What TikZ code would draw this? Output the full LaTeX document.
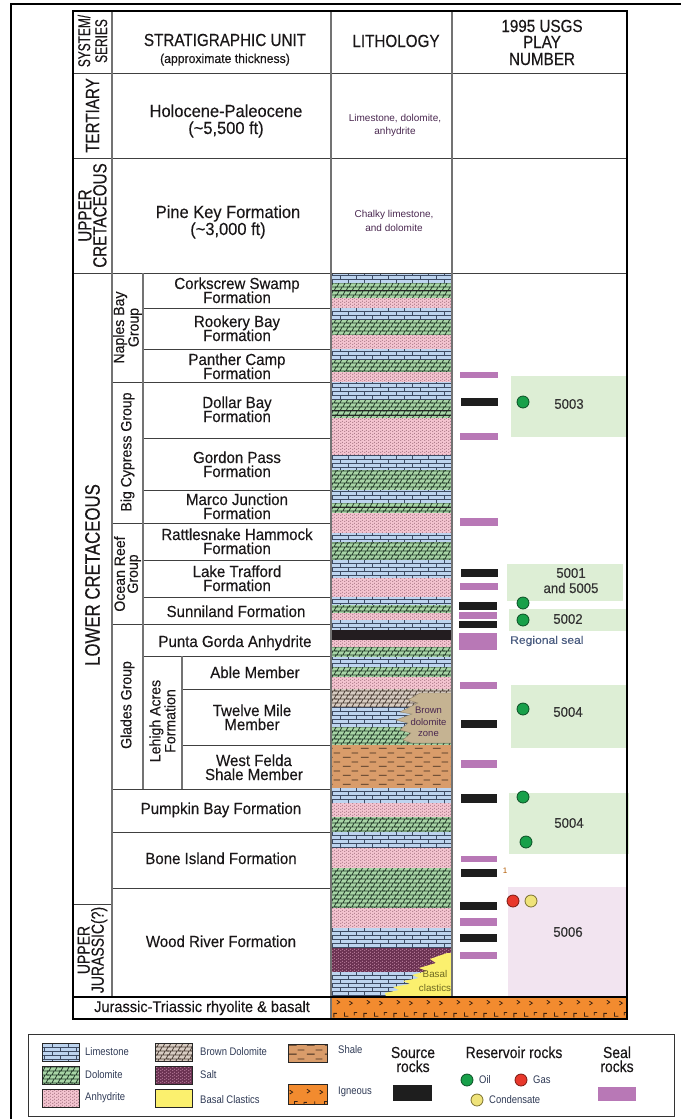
\documentclass[tikz,border=0pt]{standalone}
\usepackage{fontspec}
\setmainfont{Liberation Sans}[FakeStretch=0.94,FakeBold=0.3]
\newfontfamily\capf{Liberation Sans}[FakeStretch=0.8,FakeBold=0.3]
\newfontfamily\sysf{Liberation Sans}[FakeStretch=0.7,FakeBold=0.3]
\newfontfamily\hdf{Liberation Sans}[FakeStretch=0.87,FakeBold=0.3]
\newfontfamily\lgf{Liberation Sans}[FakeStretch=0.86]
\newfontfamily\wdf{Liberation Sans}[FakeStretch=1.1,FakeBold=0.4]
\newfontfamily\nrf{Liberation Sans}
\usetikzlibrary{patterns}

\definecolor{lsC}{HTML}{BDD4EF}\definecolor{lsL}{HTML}{3D4B63}
\definecolor{doC}{HTML}{A8D5A6}\definecolor{doL}{HTML}{253D2B}
\definecolor{anC}{HTML}{F4C4D0}\definecolor{anL}{HTML}{8A5868}
\definecolor{saC}{HTML}{6B3252}\definecolor{saL}{HTML}{D89AB8}
\definecolor{bdC}{HTML}{D8CDC3}\definecolor{bdL}{HTML}{4E4038}
\definecolor{shC}{HTML}{D99C6A}\definecolor{shL}{HTML}{3B2A1C}
\definecolor{igC}{HTML}{F28B2F}\definecolor{igL}{HTML}{3A2212}
\definecolor{bkC}{HTML}{231D20}
\definecolor{yelC}{HTML}{FBF06E}
\definecolor{bzC}{HTML}{C5B392}
\definecolor{grnBox}{HTML}{DDEED5}
\definecolor{pnkBox}{HTML}{F2E4F0}
\definecolor{sealC}{HTML}{B878B6}
\definecolor{srcC}{HTML}{1E1E1E}
\definecolor{oilC}{HTML}{18A04A}\definecolor{oilD}{HTML}{0B4F25}
\definecolor{gasC}{HTML}{E8382C}\definecolor{gasD}{HTML}{7A1A12}
\definecolor{conC}{HTML}{EFE37A}\definecolor{conD}{HTML}{7A7030}
\definecolor{txtC}{HTML}{1A1718}
\definecolor{litC}{HTML}{4A2850}
\definecolor{lgC}{HTML}{2F3A55}
\definecolor{rsC}{HTML}{4A5C80}

\pgfdeclarepatternformonly{limeP}{\pgfqpoint{-1pt}{-1pt}}{\pgfqpoint{17pt}{9pt}}{\pgfqpoint{16pt}{8pt}}{%
  \pgfsetlinewidth{0.7pt}%
  \pgfpathmoveto{\pgfqpoint{-1pt}{0pt}}\pgfpathlineto{\pgfqpoint{17pt}{0pt}}%
  \pgfpathmoveto{\pgfqpoint{-1pt}{4pt}}\pgfpathlineto{\pgfqpoint{17pt}{4pt}}%
  \pgfpathmoveto{\pgfqpoint{4pt}{0pt}}\pgfpathlineto{\pgfqpoint{4pt}{4pt}}%
  \pgfpathmoveto{\pgfqpoint{12pt}{4pt}}\pgfpathlineto{\pgfqpoint{12pt}{8pt}}%
  \pgfusepath{stroke}}
\pgfdeclarepatternformonly{doloP}{\pgfqpoint{-1pt}{-1pt}}{\pgfqpoint{13pt}{9pt}}{\pgfqpoint{12pt}{8pt}}{%
  \pgfsetlinewidth{0.7pt}%
  \pgfpathmoveto{\pgfqpoint{-1pt}{0pt}}\pgfpathlineto{\pgfqpoint{13pt}{0pt}}%
  \pgfpathmoveto{\pgfqpoint{-1pt}{4pt}}\pgfpathlineto{\pgfqpoint{13pt}{4pt}}%
  \pgfpathmoveto{\pgfqpoint{1pt}{0pt}}\pgfpathlineto{\pgfqpoint{3pt}{4pt}}%
  \pgfpathmoveto{\pgfqpoint{7pt}{0pt}}\pgfpathlineto{\pgfqpoint{9pt}{4pt}}%
  \pgfpathmoveto{\pgfqpoint{4pt}{4pt}}\pgfpathlineto{\pgfqpoint{6pt}{8pt}}%
  \pgfpathmoveto{\pgfqpoint{10pt}{4pt}}\pgfpathlineto{\pgfqpoint{12pt}{8pt}}%
  \pgfusepath{stroke}}
\pgfdeclarepatternformonly{anhyP}{\pgfqpoint{0pt}{0pt}}{\pgfqpoint{4pt}{3pt}}{\pgfqpoint{4pt}{3pt}}{%
  \pgfpathcircle{\pgfqpoint{1pt}{0.75pt}}{0.65pt}%
  \pgfpathcircle{\pgfqpoint{3pt}{2.25pt}}{0.65pt}%
  \pgfusepath{fill}}
\pgfdeclarepatternformonly{shaleP}{\pgfqpoint{0pt}{0pt}}{\pgfqpoint{18pt}{9pt}}{\pgfqpoint{18pt}{9pt}}{%
  \pgfsetlinewidth{0.9pt}%
  \pgfpathmoveto{\pgfqpoint{1pt}{2pt}}\pgfpathlineto{\pgfqpoint{9pt}{2pt}}%
  \pgfpathmoveto{\pgfqpoint{10pt}{6.5pt}}\pgfpathlineto{\pgfqpoint{17pt}{6.5pt}}%
  \pgfusepath{stroke}}
\pgfdeclarepatternformonly{ignP}{\pgfqpoint{0pt}{0pt}}{\pgfqpoint{30pt}{22pt}}{\pgfqpoint{30pt}{22pt}}{%
  \pgfsetlinewidth{0.8pt}%
  \pgfpathmoveto{\pgfqpoint{4pt}{14pt}}\pgfpathlineto{\pgfqpoint{4pt}{18pt}}\pgfpathlineto{\pgfqpoint{7pt}{18pt}}%
  \pgfpathmoveto{\pgfqpoint{15pt}{19pt}}\pgfpathlineto{\pgfqpoint{15pt}{15pt}}\pgfpathlineto{\pgfqpoint{19pt}{15pt}}%
  \pgfpathmoveto{\pgfqpoint{7pt}{9pt}}\pgfpathlineto{\pgfqpoint{10pt}{7pt}}\pgfpathlineto{\pgfqpoint{7pt}{5pt}}%
  \pgfpathmoveto{\pgfqpoint{20pt}{8pt}}\pgfpathlineto{\pgfqpoint{23pt}{6pt}}\pgfpathlineto{\pgfqpoint{20pt}{4pt}}%
  \pgfpathmoveto{\pgfqpoint{25pt}{16pt}}\pgfpathlineto{\pgfqpoint{25pt}{19pt}}\pgfpathlineto{\pgfqpoint{28pt}{19pt}}%
  \pgfusepath{stroke}}

\newcommand\lband[3]{\path[#3] (331,#1) rectangle (452,#2);}
\newcommand\swatch[5]{\path[#5] (#1,#2) rectangle (#3,#4); \draw[swb] (#1,#2) rectangle (#3,#4);}

\begin{document}
\begin{tikzpicture}[x=1pt,y=-1pt,
  lsB/.style={fill=lsC, postaction={pattern=limeP, pattern color=lsL}},
  doB/.style={fill=doC, postaction={pattern=doloP, pattern color=doL}},
  anB/.style={fill=anC, postaction={pattern=anhyP, pattern color=anL}},
  saB/.style={fill=saC, postaction={pattern=anhyP, pattern color=saL}},
  bdB/.style={fill=bdC, postaction={pattern=doloP, pattern color=bdL}},
  shB/.style={fill=shC, postaction={pattern=shaleP, pattern color=shL}},
  igB/.style={fill=igC, postaction={pattern=ignP, pattern color=igL}},
  bkB/.style={fill=bkC},
  ylB/.style={fill=yelC},
  swb/.style={draw=black!85, line width=0.8pt},
  sealbar/.style={fill=sealC},
  srcbar/.style={fill=srcC},
  tl/.style={draw=black!75, line width=0.9pt},
  vl/.style={draw=black!55, line width=1.2pt},
  oil/.style={circle, inner sep=0pt, minimum size=12pt, fill=oilC, draw=oilD, line width=0.8pt},
  gas/.style={circle, inner sep=0pt, minimum size=12pt, fill=gasC, draw=gasD, line width=0.8pt},
  cond/.style={circle, inner sep=0pt, minimum size=12pt, fill=conC, draw=conD, line width=0.8pt},
  fm/.style={font=\fontsize{16}{14}\selectfont, text=txtC, inner sep=0pt, anchor=base},
  hd/.style={font=\hdf\fontsize{17.5}{16}\selectfont, text=txtC, inner sep=0pt, anchor=base},
  rot/.style={rotate=90, inner sep=0pt, text=txtC, align=center},
  lit/.style={font=\nrf\fontsize{10}{12}\selectfont, text=litC, inner sep=0pt, anchor=base},
  play/.style={font=\fontsize{14}{14}\selectfont, text=black!80, inner sep=0pt},
  lgs/.style={font=\lgf\fontsize{11}{12}\selectfont, text=lgC, inner sep=0pt, anchor=west},
  lgh/.style={font=\hdf\fontsize{16}{14}\selectfont, text=txtC, inner sep=0pt, anchor=base}
]
\useasboundingbox (0,0) rectangle (681,1119);

% play boxes
\fill[grnBox] (511,376) rectangle (627,437);
\fill[grnBox] (507,564) rectangle (623,601);
\fill[grnBox] (509,609) rectangle (627,631);
\fill[grnBox] (511,685) rectangle (627,748);
\fill[grnBox] (509,793) rectangle (629,854);
\fill[pnkBox] (508,887) rectangle (627,997);

% lithology bands
\lband{273}{283}{lsB}
\lband{283}{298}{doB}
\lband{298}{308}{anB}
\lband{308}{320}{lsB}
\lband{320}{335}{doB}
\lband{335}{349}{anB}
\lband{349}{360}{lsB}
\lband{360}{372}{doB}
\lband{372}{382}{anB}
\lband{382}{400}{lsB}
\lband{400}{418}{doB}
\lband{418}{455}{anB}
\lband{455}{470}{lsB}
\lband{470}{490}{doB}
\lband{490}{503}{lsB}
\lband{503}{513}{doB}
\lband{513}{533}{anB}
\lband{533}{542}{lsB}
\lband{542}{560}{doB}
\lband{560}{578}{lsB}
\lband{578}{597}{anB}
\lband{597}{605}{lsB}
\lband{605}{613}{doB}
\lband{613}{620}{anB}
\lband{620}{630}{lsB}
\lband{630}{640}{bkB}
\lband{640}{647}{anB}
\lband{647}{657}{doB}
\lband{657}{667}{lsB}
\lband{667}{677}{doB}
\lband{677}{689}{anB}
\lband{689}{707}{bdB}
\lband{707}{727}{lsB}
\lband{727}{745}{doB}
\lband{745}{788}{shB}
\lband{788}{803}{lsB}
\lband{803}{817}{anB}
\lband{817}{832}{doB}
\lband{832}{848}{lsB}
\lband{848}{868}{anB}
\lband{868}{908}{doB}
\lband{908}{928}{anB}
\lband{928}{948}{lsB}
\lband{948}{972}{saB}
\lband{972}{997}{lsB}
\foreach \yy in {290,410,415,507} \draw[black!85, line width=0.7pt] (331,\yy) -- (452,\yy);

% brown dolomite zone
\fill[bzC, draw=bzC!75!black, line width=0.4pt] (452,693) -- (420,693) -- (408,700) -- (418,703) -- (400,712) -- (412,714) -- (396,720) -- (408,723) -- (400,730) -- (411,733) -- (403,740) -- (412,743) -- (452,743) -- cycle;
% basal clastics
\fill[yelC] (452,953) -- (447,953) -- (430,959) -- (436,963) -- (419,968) -- (427,971) -- (412,975) -- (419,978) -- (403,981) -- (410,984) -- (393,987) -- (399,990) -- (385,993) -- (386,997) -- (452,997) -- cycle;

% igneous basement
\path[igB] (331,997) rectangle (627,1019);

% seal bars
\fill[sealbar] (460,372) rectangle (498,378);
\fill[sealbar] (460,433) rectangle (498,440);
\fill[sealbar] (460,518) rectangle (498,526);
\fill[sealbar] (460,583) rectangle (498,590);
\fill[sealbar] (459,612) rectangle (497,619);
\fill[sealbar] (459,633) rectangle (497,650);
\fill[sealbar] (460,682) rectangle (497,689);
\fill[sealbar] (461,760) rectangle (497,768);
\fill[sealbar] (461,856) rectangle (497,862);
\fill[sealbar] (460,918) rectangle (497,926);
\fill[sealbar] (460,952) rectangle (497,959);
% source bars
\fill[srcbar] (461,398) rectangle (498,406);
\fill[srcbar] (461,569) rectangle (498,577);
\fill[srcbar] (459,602) rectangle (497,610);
\fill[srcbar] (459,621) rectangle (497,628);
\fill[srcbar] (461,720) rectangle (497,728);
\fill[srcbar] (461,794) rectangle (497,803);
\fill[srcbar] (461,869) rectangle (497,877);
\fill[srcbar] (460,902) rectangle (497,910);
\fill[srcbar] (460,934) rectangle (497,942);

% table lines
\draw[tl] (73,73) -- (627,73);
\draw[tl] (73,158) -- (627,158);
\draw[tl] (73,273) -- (627,273);
\draw[tl] (143,308) -- (331,308);
\draw[tl] (143,349) -- (331,349);
\draw[tl] (112,382) -- (331,382);
\draw[tl] (143,438) -- (331,438);
\draw[tl] (143,490) -- (331,490);
\draw[tl] (112,523) -- (331,523);
\draw[tl] (143,560) -- (331,560);
\draw[tl] (143,597) -- (331,597);
\draw[tl] (112,624) -- (331,624);
\draw[tl] (143,656) -- (331,656);
\draw[tl] (182,689) -- (331,689);
\draw[tl] (182,745) -- (331,745);
\draw[tl] (112,789) -- (331,789);
\draw[tl] (112,832) -- (331,832);
\draw[tl] (112,888) -- (331,888);
\draw[tl] (73,904) -- (112,904);
\draw[vl] (112,11) -- (112,997);
\draw[vl] (143,273) -- (143,789);
\draw[vl] (182,656) -- (182,789);
\draw[vl] (331,11) -- (331,1019);
\draw[vl] (452,11) -- (452,997);
\draw[black, line width=1.3pt] (73,997) -- (627,997);
\draw[black, line width=1.8pt] (73,11) rectangle (627,1019);
\draw[black, line width=1.4pt] (11,1119) -- (11,4) -- (681,4);

% reservoir dots
\node[oil] (d1) at (523,402) {};
\node[oil] (d2) at (523,603) {};
\node[oil] (d3) at (523,620) {};
\node[oil] (d4) at (523,709) {};
\node[oil] (d5) at (523,797) {};
\node[oil] (d6) at (526,842) {};
\node[gas] (d7) at (513,901) {};
\node[cond] (d8) at (531,901) {};

% header
\node[rot, font=\sysf\fontsize{17}{17}\selectfont] (hSys) at (92.5,41) {SYSTEM/\\SERIES};
\node[hd] (hSU) at (225,46) {STRATIGRAPHIC UNIT};
\node[fm, font=\fontsize{13}{14}\selectfont] (hAT) at (225,63) {(approximate thickness)};
\node[hd] (hLi) at (396,47) {LITHOLOGY};
\node[hd] (hP1) at (542,32) {1995 USGS};
\node[hd] (hP2) at (542,48) {PLAY};
\node[hd] (hP3) at (542,65) {NUMBER};

% system / series
\node[rot, font=\capf\fontsize{19}{15}\selectfont] (sT) at (92.5,115.5) {TERTIARY};
\node[rot, font=\capf\fontsize{19}{15}\selectfont] (sUC) at (92.5,215.5) {UPPER\\CRETACEOUS};
\node[rot, font=\capf\fontsize{21}{16}\selectfont] (sLC) at (92.5,575) {LOWER CRETACEOUS};
\node[rot, font=\capf\fontsize{17.5}{14}\selectfont] (sUJ) at (92.5,950) {UPPER\\JURASSIC(?)};

% groups
\node[rot, font=\fontsize{15}{13}\selectfont] (gNB) at (127.5,327.5) {Naples Bay\\Group};
\node[rot, font=\fontsize{15}{13}\selectfont] (gBC) at (127.5,452) {Big Cypress Group};
\node[rot, font=\fontsize{15}{13}\selectfont] (gOR) at (127.5,574) {Ocean Reef\\Group};
\node[rot, font=\fontsize{15}{13}\selectfont] (gGL) at (127.5,705) {Glades Group};
\node[rot, font=\fontsize{15}{13}\selectfont] (gLA) at (162.5,721) {Lehigh Acres\\Formation};

% units
\node[fm, font=\fontsize{17.5}{16}\selectfont] (uHP1) at (226,117) {Holocene-Paleocene};
\node[fm, font=\fontsize{17.5}{16}\selectfont] (uHP2) at (226,134) {(\textasciitilde5,500 ft)};
\node[fm, font=\fontsize{17.5}{16}\selectfont] (uPK1) at (228,218) {Pine Key Formation};
\node[fm, font=\fontsize{17.5}{16}\selectfont] (uPK2) at (228,235) {(\textasciitilde3,000 ft)};
\node[fm] (uCS1) at (237,289) {Corkscrew Swamp};
\node[fm] (uCS2) at (237,303) {Formation};
\node[fm] (uRB1) at (237,327) {Rookery Bay};
\node[fm] (uRB2) at (237,341) {Formation};
\node[fm] (uPC1) at (237,365) {Panther Camp};
\node[fm] (uPC2) at (237,379) {Formation};
\node[fm] (uDB1) at (237,408) {Dollar Bay};
\node[fm] (uDB2) at (237,422) {Formation};
\node[fm] (uGP1) at (237,463) {Gordon Pass};
\node[fm] (uGP2) at (237,477) {Formation};
\node[fm] (uMJ1) at (237,505) {Marco Junction};
\node[fm] (uMJ2) at (237,519) {Formation};
\node[fm] (uRH1) at (237,540) {Rattlesnake Hammock};
\node[fm] (uRH2) at (237,554) {Formation};
\node[fm] (uLT1) at (237,577) {Lake Trafford};
\node[fm] (uLT2) at (237,591) {Formation};
\node[fm] (uSU) at (236,617) {Sunniland Formation};
\node[fm] (uPG) at (235,647) {Punta Gorda Anhydrite};
\node[fm] (uAB) at (255,678) {Able Member};
\node[fm] (uTM1) at (252,716) {Twelve Mile};
\node[fm] (uTM2) at (252,730) {Member};
\node[fm] (uWF1) at (254,766) {West Felda};
\node[fm] (uWF2) at (254,780) {Shale Member};
\node[fm] (uPB) at (221,814) {Pumpkin Bay Formation};
\node[fm] (uBI) at (221,864) {Bone Island Formation};
\node[fm] (uWR) at (221,947) {Wood River Formation};
\node[fm, font=\fontsize{15.5}{14}\selectfont] (uJT) at (202,1012) {Jurassic-Triassic rhyolite \& basalt};

% lithology notes
\node[lit] (l1) at (395,121) {Limestone, dolomite,};
\node[lit] (l2) at (395,134) {anhydrite};
\node[lit] (l3) at (394,217) {Chalky limestone,};
\node[lit] (l4) at (394,231) {and dolomite};
\node[lit, font=\nrf\fontsize{9.5}{10}\selectfont] (bz1) at (428.5,713) {Brown};
\node[lit, font=\nrf\fontsize{9.5}{10}\selectfont] (bz2) at (428.5,725) {dolomite};
\node[lit, font=\nrf\fontsize{9.5}{10}\selectfont] (bz3) at (428.5,736) {zone};
\node[lit, font=\nrf\fontsize{9.8}{10}\selectfont, text=olive!70!black] (bc1) at (435,977) {Basal};
\node[lit, font=\nrf\fontsize{9.8}{10}\selectfont, text=olive!70!black] (bc2) at (435,991) {clastics};

% play numbers
\node[play] (p5003) at (569,404) {5003};
\node[play] (p5001) at (571,573) {5001};
\node[play] (p5005) at (571,588) {and 5005};
\node[play] (p5002) at (568,619) {5002};
\node[play] (p5004a) at (568,712) {5004};
\node[play] (p5004b) at (569,823) {5004};
\node[play] (p5006) at (568,932) {5006};
\node[font=\wdf\fontsize{11}{12}\selectfont, text=rsC, inner sep=0pt, anchor=west] (rseal) at (510,641) {Regional seal};
\node[font=\nrf\fontsize{8}{8}\selectfont, text=orange!70!black, inner sep=0pt] (foot1) at (505,871) {1};

% legend
\draw[black!80, line width=1pt] (28,1034) rectangle (674,1116);
\swatch{42}{1043}{79}{1061}{lsB}
\swatch{42}{1066}{79}{1084}{doB}
\swatch{42}{1089}{79}{1107}{anB}
\swatch{155}{1043}{192}{1061}{bdB}
\swatch{155}{1066}{192}{1084}{saB}
\swatch{155}{1089}{192}{1107}{ylB}
\swatch{288}{1044}{327}{1062}{shB}
\swatch{288}{1084}{327}{1104}{igB}
\node[lgs] (kLs) at (85,1052) {Limestone};
\node[lgs] (kDo) at (85,1075) {Dolomite};
\node[lgs] (kAn) at (85,1098) {Anhydrite};
\node[lgs] (kBd) at (200,1052) {Brown Dolomite};
\node[lgs] (kSa) at (200,1075) {Salt};
\node[lgs] (kBc) at (200,1100) {Basal Clastics};
\node[lgs] (kSh) at (338,1050) {Shale};
\node[lgs] (kIg) at (338,1092) {Igneous};
\node[lgh] (kSr1) at (413,1058) {Source};
\node[lgh] (kSr2) at (413,1072) {rocks};
\fill[srcbar] (393,1085) rectangle (432,1101);
\node[lgh] (kRr) at (514,1058) {Reservoir rocks};
\node[oil] (kOil) at (467,1080) {};
\node[lgs] (kOilT) at (479,1080) {Oil};
\node[gas] (kGas) at (521,1080) {};
\node[lgs] (kGasT) at (533,1080) {Gas};
\node[cond] (kCon) at (477,1100) {};
\node[lgs] (kConT) at (489,1100) {Condensate};
\node[lgh] (kSe1) at (617,1058) {Seal};
\node[lgh] (kSe2) at (617,1072) {rocks};
\fill[sealbar] (598,1087) rectangle (636,1101);
\end{tikzpicture}
\end{document}
